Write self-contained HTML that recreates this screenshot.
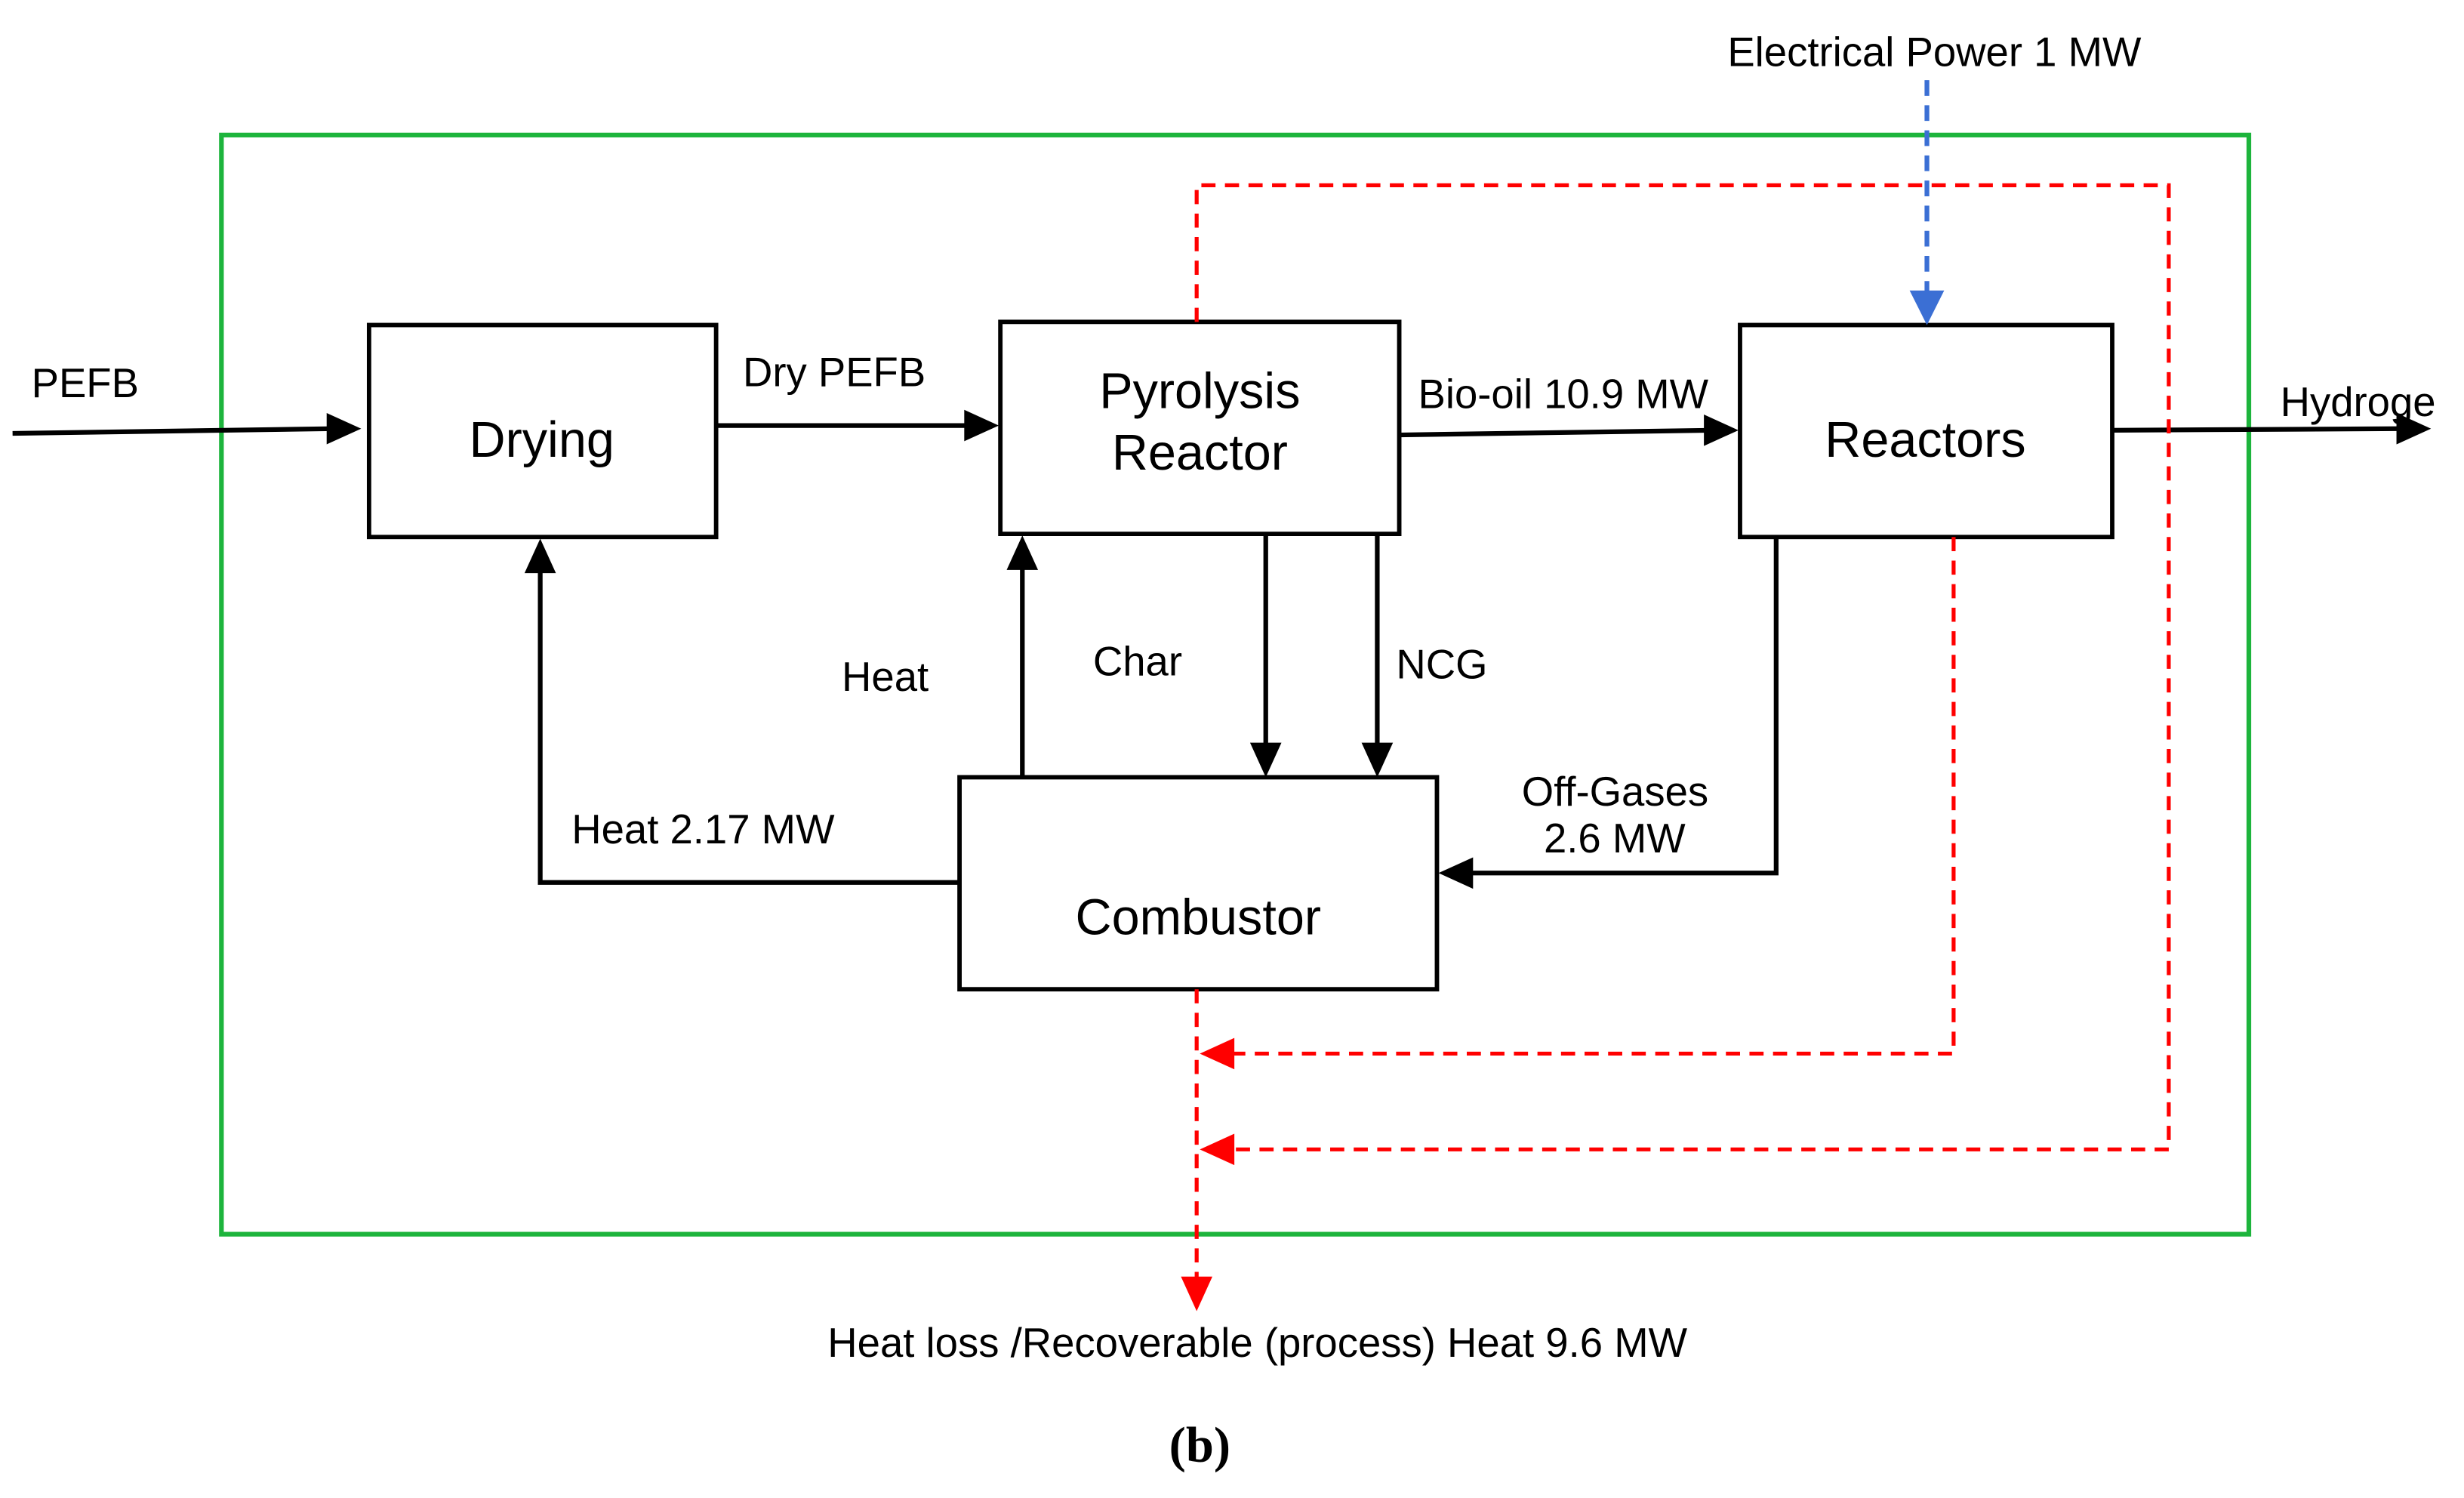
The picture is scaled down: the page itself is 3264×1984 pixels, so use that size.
<!DOCTYPE html>
<html><head><meta charset="utf-8"><style>
html,body{margin:0;padding:0;background:#fff;}
svg{display:block;}
text{font-family:"Liberation Sans",sans-serif;fill:#000;}
</style></head><body>
<svg width="3264" height="1984" viewBox="0 -1 1569 954" preserveAspectRatio="none" xmlns="http://www.w3.org/2000/svg">
<rect x="141" y="85" width="1291" height="700" fill="none" stroke="#1db43c" stroke-width="3"/>
<g fill="none" stroke="#000" stroke-width="2.8">
<rect x="235" y="206" width="221" height="135"/>
<rect x="637" y="204" width="254" height="135"/>
<rect x="1108" y="206" width="237" height="135"/>
<rect x="611" y="494" width="304" height="135"/>
</g>
<g stroke="#000" stroke-width="3" fill="none">
<line x1="8" y1="275" x2="212" y2="272"/>
<line x1="456" y1="270" x2="618" y2="270"/>
<line x1="891" y1="276" x2="1090" y2="273"/>
<line x1="1345" y1="273" x2="1530" y2="272"/>
<polyline points="611,561 344,561 344,362"/>
<line x1="651" y1="494" x2="651" y2="360"/>
<line x1="806" y1="339" x2="806" y2="475"/>
<line x1="877" y1="339" x2="877" y2="475"/>
<polyline points="1131,341 1131,555 936,555"/>
</g>
<g fill="#000">
<path d="M230,272 l-22,-10 v20 z"/>
<path d="M636,270 l-22,-10 v20 z"/>
<path d="M1107,273 l-22,-10 v20 z"/>
<path d="M1548,272 l-22,-10 v20 z"/>
<path d="M344,342 l-10,22 h20 z"/>
<path d="M651,340 l-10,22 h20 z"/>
<path d="M806,494 l-10,-22 h20 z"/>
<path d="M877,494 l-10,-22 h20 z"/>
<path d="M916,555 l22,-10 v20 z"/>
</g>
<g stroke="#ff0000" stroke-width="2.5" fill="none" stroke-dasharray="9,6">
<polyline points="762,204 762,117 1381,117 1381,731 785,731"/>
<polyline points="1244,341 1244,670 785,670"/>
<line x1="762" y1="629" x2="762" y2="815"/>
</g>
<g fill="#ff0000">
<path d="M764,670 l22,-10 v20 z"/>
<path d="M764,731 l22,-10 v20 z"/>
<path d="M762,834 l-10,-22 h20 z"/>
</g>
<line x1="1227" y1="50" x2="1227" y2="185" stroke="#3b6fd4" stroke-width="3" stroke-dasharray="10,6"/>
<path d="M1227,206 l-11,-22 h22 z" fill="#3b6fd4"/>
<g font-size="32" text-anchor="middle">
<text x="345" y="290">Drying</text>
<text x="764" y="259">Pyrolysis</text>
<text x="764" y="298">Reactor</text>
<text x="1226" y="290">Reactors</text>
<text x="763" y="594">Combustor</text>
</g>
<g font-size="26.2">
<text x="20" y="252">PEFB</text>
<text x="473" y="245">Dry PEFB</text>
<text x="903" y="259">Bio-oil 10.9 MW</text>
<text x="1452" y="264">Hydroge</text>
<text x="1100" y="41">Electrical Power 1 MW</text>
<text x="364" y="536">Heat 2.17 MW</text>
<text x="536" y="439">Heat</text>
<text x="696" y="429">Char</text>
<text x="889" y="431">NCG</text>
<text x="969" y="512">Off-Gases</text>
<text x="983" y="542">2.6 MW</text>
<text x="527" y="863">Heat loss /Recoverable (process) Heat 9.6 MW</text>
</g>
<text x="764" y="930" font-size="32" font-weight="bold" text-anchor="middle" style="font-family:'Liberation Serif',serif">(b)</text>
</svg>
</body></html>
